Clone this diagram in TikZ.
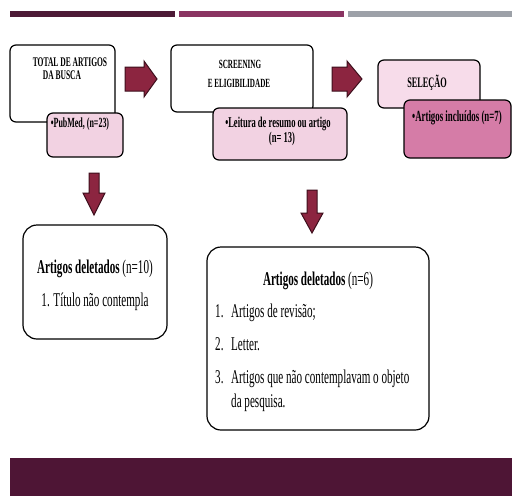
\documentclass[tikz,border=0pt]{standalone}
\usepackage{fontspec}
\setmainfont{Liberation Serif}[FakeStretch=0.57]
\definecolor{barA}{HTML}{4D1A36}
\definecolor{barB}{HTML}{8A3462}
\definecolor{barC}{HTML}{9DA1A8}
\definecolor{band}{HTML}{4E1535}
\definecolor{arrowfill}{HTML}{8C2540}
\definecolor{arrowline}{HTML}{3D0F1C}
\definecolor{pinkA}{HTML}{F2D2E2}
\definecolor{pinkB}{HTML}{F7DCEA}
\definecolor{pinkC}{HTML}{D57CA7}
\tikzset{
  box/.style={draw=black, line width=1.2pt, rounded corners=6pt, inner sep=0pt},
  bigbox/.style={draw=black, line width=1.2pt, rounded corners=14pt, inner sep=0pt, fill=white},
  blockarrow/.style={fill=arrowfill, draw=arrowline, line width=1pt, line join=miter},
  toptxt/.style={anchor=base, inner sep=0pt, font=\bfseries\fontsize{13.2}{15}\selectfont},
  lowtxt/.style={anchor=base, inner sep=0pt, font=\fontsize{19.5}{22}\selectfont},
  itemtxt/.style={anchor=base west, inner sep=0pt, font=\fontsize{19.5}{22}\selectfont},
}
\begin{document}
\begin{tikzpicture}[x=1pt,y=-1pt]
\useasboundingbox (0,0) rectangle (512,496);
% top bars
\fill[barA] (10,11) rectangle (175,17);
\fill[barB] (179,11) rectangle (344,17);
\fill[barC] (348,11) rectangle (512,17);
% bottom band
\fill[band] (10,458) rectangle (512,496);

% boxes
\node[box, fill=white, minimum width=105pt, minimum height=77pt] (total) at (62.5,83.5) {};
\node[box, fill=pinkA, minimum width=76pt, minimum height=44pt] (pubmed) at (85,135) {};
\node[box, fill=white, minimum width=142pt, minimum height=67pt] (screen) at (242,78.5) {};
\node[box, fill=pinkA, minimum width=134pt, minimum height=52pt] (leitura) at (280,134) {};
\node[box, fill=pinkB, minimum width=102pt, minimum height=48pt] (selecao) at (429,84) {};
\node[box, fill=pinkC, minimum width=107pt, minimum height=58pt] (incl) at (457.5,129) {};
\node[bigbox, minimum width=144pt, minimum height=114pt] (del1) at (95,282) {};
\node[bigbox, minimum width=222pt, minimum height=183pt] (del2) at (318,338.5) {};

% block arrows
\draw[blockarrow] (125,67) -- (144,67) -- (144,61) -- (157,79) -- (144,97) -- (144,91) -- (125,91) -- cycle;
\draw[blockarrow] (332,67) -- (347,67) -- (347,61) -- (362,79) -- (347,97) -- (347,91) -- (332,91) -- cycle;
\draw[blockarrow] (89,173) -- (99,173) -- (99,193) -- (105,193) -- (94,215) -- (83,193) -- (89,193) -- cycle;
\draw[blockarrow] (307,190) -- (317,190) -- (317,213) -- (323,213) -- (312,233) -- (301,213) -- (307,213) -- cycle;

% top texts
\node[toptxt] (t1) at (70,66) {TOTAL DE ARTIGOS};
\node[toptxt] (t2) at (62,79.5) {DA BUSCA};
\node[toptxt, font=\bfseries\fontsize{14}{16}\selectfont] (t3) at (80,127) {•PubMed, (n=23)};
\node[toptxt, font=\bfseries\fontsize{12.5}{15}\selectfont] (t4) at (240,68) {SCREENING};
\node[toptxt, font=\bfseries\fontsize{12.5}{15}\selectfont] (t5) at (239,87) {E ELIGIBILIDADE};
\node[toptxt, font=\bfseries\fontsize{15}{17}\selectfont] (t6) at (278,127) {•Leitura de resumo ou artigo};
\node[toptxt, font=\bfseries\fontsize{15}{17}\selectfont] (t7) at (282,142) {(n= 13)};
\node[toptxt, font=\bfseries\fontsize{14.5}{17}\selectfont] (t8) at (427,87) {SELEÇÃO};
\node[toptxt, font=\bfseries\fontsize{15.5}{17}\selectfont] (t9) at (457,121) {•Artigos incluídos (n=7)};

% lower texts
\node[lowtxt] (d1h) at (95,273) {\textbf{Artigos deletados} (n=10)};
\node[lowtxt] (d1a) at (95,306) {1. Título não contempla};
\node[lowtxt] (d2h) at (318,285) {\textbf{Artigos deletados} (n=6)};
\node[itemtxt] (n1) at (215,317) {1.};
\node[itemtxt] (i1) at (231,317) {Artigos de revisão;};
\node[itemtxt] (n2) at (215,350) {2.};
\node[itemtxt] (i2) at (231,350) {Letter.};
\node[itemtxt] (n3) at (215,383) {3.};
\node[itemtxt] (i3) at (231,383) {Artigos que não contemplavam o objeto};
\node[itemtxt] (i3b) at (231,407) {da pesquisa.};
\end{tikzpicture}
\end{document}
